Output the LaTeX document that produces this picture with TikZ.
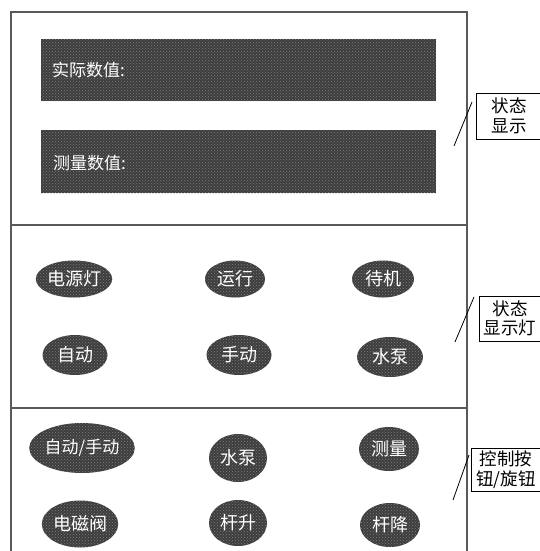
\documentclass[tikz,border=0pt]{standalone}
\usepackage{fontspec}
\newfontfamily\cjk{Noto Sans CJK SC}
\usetikzlibrary{shapes.geometric,patterns}
\tikzset{
  grain/.style={postaction={pattern=crosshatch dots, pattern color=black!50}},
  panel/.style={draw=black!65, line width=1.4pt},
  screen/.style={rectangle, fill=black!76, draw=none, inner sep=0pt, grain},
  screentext/.style={anchor=west, text=white, inner sep=0pt, font=\cjk\fontsize{17}{17}\selectfont},
  lamp/.style={ellipse, fill=black!76, draw=none, inner sep=0pt, text=white, grain, font=\cjk\fontsize{18}{18}\selectfont},
  tag/.style={rectangle, draw=black, line width=0.9pt, fill=white, align=center, inner sep=0pt, font=\cjk\fontsize{17.5}{19.5}\selectfont},
  lead/.style={draw=black, line width=0.8pt}
}
\begin{document}
\begin{tikzpicture}[x=1pt,y=-1pt]
\useasboundingbox (0,0) rectangle (539,551);
% frame
\draw[panel] (11,556) -- (11,12) -- (467,12) -- (467,556);
\draw[panel] (11,225) -- (467,225);
\draw[panel] (11,408) -- (467,408);
% screens
\node[screen, minimum width=395, minimum height=62] (scr1) at (238.5,70) {};
\node[screen, minimum width=395, minimum height=63] (scr2) at (238.5,161.5) {};
\node[screentext] (scr1t) at (52,70) {实际数值:};
\node[screentext] (scr2t) at (53,163) {测量数值:};
% lamps
\node[lamp, minimum width=66, minimum height=37] (l1) at (74,279) {电源灯};
\node[lamp, minimum width=60, minimum height=37] (l2) at (235,279) {运行};
\node[lamp, minimum width=62, minimum height=37] (l3) at (383,279) {待机};
\node[lamp, minimum width=65, minimum height=40] (l4) at (75,355) {自动};
\node[lamp, minimum width=65, minimum height=40] (l5) at (239,355) {手动};
\node[lamp, minimum width=66, minimum height=40] (l6) at (390,357) {水泵};
% buttons
\node[lamp, minimum width=74, minimum height=50, font=\cjk\fontsize{17}{17}\selectfont] (b1) at (82,448) {自动/手动};
\node[lamp, minimum width=58, minimum height=48] (b2) at (238,458) {水泵};
\node[lamp, minimum width=60, minimum height=44] (b3) at (389,449) {测量};
\node[lamp, minimum width=60, minimum height=47] (b4) at (80,524) {电磁阀};
\node[lamp, minimum width=58, minimum height=46] (b5) at (238,523) {杆升};
\node[lamp, minimum width=60, minimum height=44] (b6) at (390,525) {杆降};
% tags
\node[tag, minimum width=66, minimum height=46] (t1) at (509,116) {状态\\显示};
\node[tag, minimum width=62, minimum height=45] (t2) at (510,318.5) {状态\\显示灯};
\node[tag, minimum width=70, minimum height=43] (t3) at (506,469.5) {控制按\\钮/旋钮};
% leader lines
\coordinate (p1a) at (472,102);
\coordinate (p1b) at (454,146);
\coordinate (p2a) at (474,297);
\coordinate (p2b) at (455,342);
\coordinate (p3a) at (469,455);
\coordinate (p3b) at (453,500);
\draw[lead] (p1a) -- (p1b);
\draw[lead] (p2a) -- (p2b);
\draw[lead] (p3a) -- (p3b);
\end{tikzpicture}
\end{document}
